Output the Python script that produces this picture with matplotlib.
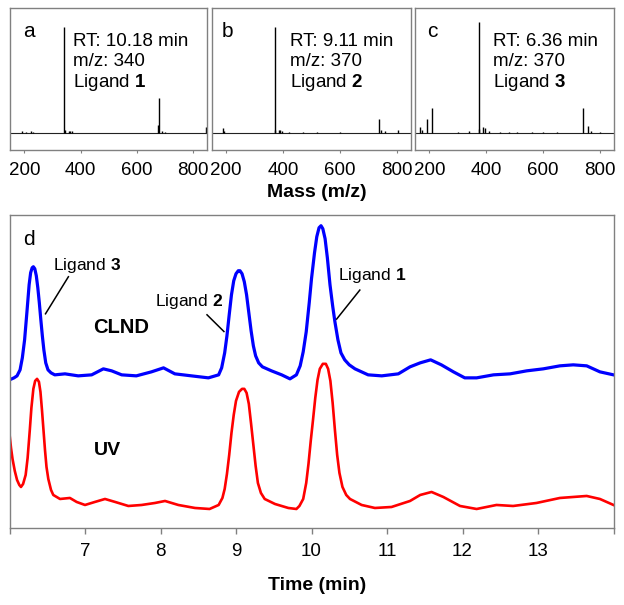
import matplotlib
matplotlib.use("Agg")
import matplotlib.pyplot as plt

plt.rcParams['font.family'] = ['Liberation Sans', 'DejaVu Sans']
plt.rcParams['mathtext.fontset'] = 'custom'
plt.rcParams['mathtext.rm'] = 'Liberation Sans'
plt.rcParams['mathtext.bf'] = 'Liberation Sans:bold'

# --- mass spectra (m/z, relative intensity) ---
mz_a = [192, 205, 222, 230, 340, 343, 357, 362, 369, 676, 680, 690, 700, 846]
int_a = [2, 1, 1.5, 1, 100, 3, 2, 1.5, 2, 8, 33, 2, 1, 6]
mz_b = [188, 193, 370, 373, 385, 390, 395, 420, 470, 520, 600, 739, 743, 760, 803]
int_b = [5, 1.5, 100, 3, 3, 3, 2, 0.8, 0.8, 0.8, 0.8, 13, 3, 1.5, 2.5]
mz_c = [167, 172, 192, 209, 300, 341, 373, 376, 390, 396, 410, 450, 480, 510,
        560, 600, 650, 741, 759, 770, 800]
int_c = [5.4, 3, 13.2, 23.6, 1.2, 2, 105, 4, 5.4, 5, 2, 1.2, 1, 1,
         1, 1, 0.8, 23.6, 6.3, 1.5, 1]
panel_labels = ['a', 'b', 'c']
rt_text = ['RT: 10.18 min', 'RT: 9.11 min', 'RT: 6.36 min']
mz_text = ['m/z: 340', 'm/z: 370', 'm/z: 370']
lig_text = ['Ligand $\\mathbf{1}$', 'Ligand $\\mathbf{2}$', 'Ligand $\\mathbf{3}$']
mass_ticks = [200, 400, 600, 800]

# --- chromatograms (time in min, signal) ---
clnd_t = [6.0, 6.06, 6.1, 6.14, 6.17, 6.2, 6.23, 6.26, 6.28, 6.30, 6.316, 6.335,
          6.355, 6.375, 6.395, 6.415, 6.435, 6.455, 6.48, 6.51, 6.55, 6.6,
          6.735, 6.91, 7.088, 7.243, 7.353, 7.486, 7.68, 7.88, 8.04, 8.19, 8.41,
          8.634, 8.77, 8.81, 8.85, 8.88, 8.91, 8.94, 8.97, 9.0, 9.03, 9.053, 9.08,
          9.11, 9.14, 9.17, 9.2, 9.23, 9.26, 9.3, 9.35, 9.47, 9.605, 9.715, 9.80,
          9.85, 9.89, 9.93, 9.97, 10.0, 10.04, 10.07, 10.1, 10.126, 10.15, 10.18,
          10.21, 10.245, 10.28, 10.31, 10.35, 10.39, 10.44, 10.5, 10.576, 10.75,
          10.93, 11.15, 11.305, 11.44, 11.578, 11.72, 11.88, 12.03, 12.187,
          12.41, 12.63, 12.85, 13.07, 13.29, 13.467, 13.645, 13.82, 14.0]
clnd_v = [148, 150, 152, 158, 170, 188, 215, 243, 255, 260, 261, 259,
          252, 240, 225, 208, 192, 178, 165, 158, 155, 153,
          154, 152, 153, 159, 157, 153, 152, 156, 160, 154, 152,
          150, 153, 160, 175, 192, 213, 233, 247, 254, 257, 257, 254,
          246, 233, 215, 197, 182, 172, 165, 161, 157, 153, 149, 153,
          162, 176, 196, 225, 249, 275, 291, 300, 302, 299, 289,
          270, 243, 222, 206, 188, 175, 168, 163, 159, 153,
          152, 154, 161, 165, 168, 163, 156, 150, 150,
          153, 154, 157, 159, 162, 163, 162, 156, 153]
uv_t = [6.0, 6.02, 6.04, 6.07, 6.1, 6.13, 6.152, 6.18, 6.214, 6.24, 6.27, 6.29,
        6.316, 6.34, 6.365, 6.39, 6.41, 6.43, 6.45, 6.47, 6.49, 6.514, 6.55,
        6.58, 6.669, 6.80, 6.89, 7.0, 7.13, 7.265, 7.40, 7.574, 7.75, 7.927,
        8.06, 8.236, 8.457, 8.65, 8.77, 8.82, 8.85, 8.88, 8.91, 8.94, 8.97, 9.0,
        9.04, 9.08, 9.11, 9.14, 9.17, 9.2, 9.23, 9.26, 9.29, 9.33, 9.38, 9.516,
        9.693, 9.80, 9.84, 9.89, 9.93, 9.96, 9.99, 10.02, 10.05, 10.08, 10.11,
        10.15, 10.19, 10.22, 10.25, 10.28, 10.31, 10.34, 10.37, 10.41, 10.46,
        10.51, 10.664, 10.84, 11.06, 11.305, 11.44, 11.59, 11.746, 11.967,
        12.187, 12.45, 12.67, 12.98, 13.29, 13.645, 13.82, 14.0]
uv_v = [94, 80, 69, 57, 48, 43, 41, 44, 53, 70, 99, 120,
        139, 147, 149, 146, 136, 118, 98, 78, 61, 49, 38,
        33, 29, 30, 26, 23, 26, 29, 26, 22, 23, 25,
        27, 23, 20, 19, 23, 30, 39, 54, 73, 95, 113, 127,
        136, 139, 139, 135, 124, 104, 83, 62, 45, 35, 29, 24,
        20, 19, 22, 29, 45, 64, 87, 108, 130, 148, 159,
        164, 164, 159, 147, 125, 98, 73, 55, 41, 33,
        29, 23, 20, 21, 27, 33, 36, 31, 22,
        19, 23, 22, 25, 30, 32, 29, 23]
time_ticks = [7, 8, 9, 10, 11, 12, 13]

W, H = 624, 605
fig = plt.figure(figsize=(W / 100, H / 100), dpi=100)


def px_axes(l, t, r, b):
    return fig.add_axes([l / W, 1 - b / H, (r - l) / W, (b - t) / H])


gray = '#808080'
boxes = [(10.3, 8.3, 207.3, 150), (212, 8.3, 411, 150), (415.3, 8.3, 613.7, 150)]
spectra = [(mz_a, int_a), (mz_b, int_b), (mz_c, int_c)]
lab_x = [0.064, 0.05, 0.058]
txt_x = [0.318, 0.392, 0.391]
for i in range(3):
    ax = px_axes(*boxes[i])
    mz, inten = spectra[i]
    ax.axhline(0, color='#222222', lw=0.8)
    ax.vlines(mz, 0, inten, color='black', lw=1.0)
    ax.set_xlim(150, 850)
    ax.set_ylim(-16, 118)
    ax.set_yticks([])
    ax.set_xticks(mass_ticks)
    ax.tick_params(axis='x', direction='out', length=2, width=0.8, color=gray,
                   labelsize=13.5, pad=6.5)
    for s in ax.spines.values():
        s.set_color(gray)
        s.set_linewidth(1.0)
    ax.text(lab_x[i], 0.80, panel_labels[i], transform=ax.transAxes,
            fontsize=15, va='baseline')
    ax.text(txt_x[i], 0.737, rt_text[i], transform=ax.transAxes, fontsize=13.5, va='baseline')
    ax.text(txt_x[i], 0.593, mz_text[i], transform=ax.transAxes, fontsize=13.5, va='baseline')
    ax.text(txt_x[i], 0.448, lig_text[i], transform=ax.transAxes, fontsize=13.5, va='baseline')

fig.text(317 / W, 1 - 196.7 / H, 'Mass (m/z)', fontsize=14, fontweight='bold',
         ha='center', va='baseline')

ax = px_axes(9.5, 214.7, 613.5, 528)
ax.plot(clnd_t, clnd_v, color='#0000ff', lw=2.3)
ax.plot(uv_t, uv_v, color='#ff0000', lw=1.9)
ax.set_xlim(6, 14)
ax.set_ylim(0, 313)
ax.set_yticks([])
ax.set_xticks([6] + time_ticks + [14])
ax.set_xticklabels([''] + [str(t) for t in time_ticks] + [''])
ax.tick_params(axis='x', direction='out', length=4, width=1, color=gray,
               labelsize=13.5, pad=7)
for s in ax.spines.values():
    s.set_color(gray)
    s.set_linewidth(1.0)

ax.text(6.18, 283, 'd', fontsize=15, va='baseline')
ax.text(6.576, 257.7, 'Ligand $\\mathbf{3}$', fontsize=12.5, va='baseline')
ax.plot([6.78, 6.477], [251, 214], color='black', lw=1.1)
ax.text(7.927, 222, 'Ligand $\\mathbf{2}$', fontsize=12.5, va='baseline')
ax.plot([8.616, 8.84], [213, 196.3], color='black', lw=1.1)
ax.text(10.347, 247.7, 'Ligand $\\mathbf{1}$', fontsize=12.5, va='baseline')
ax.plot([10.64, 10.333], [237.7, 208.7], color='black', lw=1.1)
ax.text(7.11, 195.3, 'CLND', fontsize=14.5, fontweight='bold', va='baseline')
ax.text(7.12, 73.3, 'UV', fontsize=14, fontweight='bold', va='baseline')

fig.text(317 / W, 1 - 590 / H, 'Time (min)', fontsize=14, fontweight='bold',
         ha='center', va='baseline')

fig.savefig('out.png', dpi=100)
